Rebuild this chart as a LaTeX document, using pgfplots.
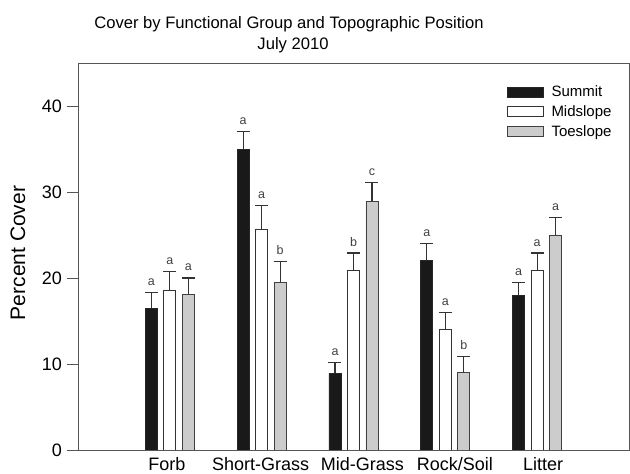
\documentclass[border=0pt]{standalone}
\usepackage{pgfplots}
\usepackage{pgfplotstable}
\pgfplotsset{compat=1.18}
\usepackage{fontspec}
\setmainfont{Liberation Sans}
\definecolor{axgray}{HTML}{555555}
\definecolor{toefill}{HTML}{CCCCCC}
\pgfplotstableread{
x y e
1 16.5 1.8
2 35.0 2.0
3 8.9 1.25
4 22.0 2.0
5 18.0 1.5
}\summit
\pgfplotstableread{
x y e
1 18.6 2.2
2 25.6 2.8
3 20.9 2.0
4 14.0 2.0
5 20.9 2.0
}\midslope
\pgfplotstableread{
x y e
1 18.1 1.9
2 19.5 2.4
3 28.9 2.2
4 9.0 1.9
5 25.0 2.0
}\toeslope
\begin{document}
\begin{tikzpicture}[x=1pt,y=1pt]
\useasboundingbox (0,0) rectangle (630,474);
\node[anchor=base, font=\fontsize{16.6}{19}\selectfont] at (289,445.5) {Cover by Functional Group and Topographic Position};
\node[anchor=base, font=\fontsize{16.6}{19}\selectfont] at (293,424.5) {July 2010};
\node[rotate=90, font=\fontsize{21}{24}\selectfont] at (18,221) {Percent Cover};
\begin{axis}[
 at={(78pt,24pt)}, anchor=south west,
 scale only axis, width=551pt, height=387pt,
 xmin=0, xmax=6, ymin=0, ymax=45,
 xtick={0.969,1.988,3.096,4.105,5.064},
 xticklabels={Forb,Short-Grass,Mid-Grass,Rock/Soil,Litter},
 ytick={0,10,20,30,40},
 tick align=outside,
 major tick length=11pt,
 xtick style={draw=none},
 ytick style={axgray, line width=0.9pt},
 axis line style={axgray, line width=0.9pt},
 /pgf/number format/assume math mode=true,
 ticklabel style={font=\fontsize{18}{20}\selectfont},
 yticklabel style={inner sep=0pt, xshift=-5pt},
 xticklabel style={inner sep=0pt, anchor=base, yshift=-10pt},
 ybar, bar width=12pt,
 legend style={draw=none, fill=none, at={(rel axis cs:0.7786,0.945)}, anchor=north west,
   font=\fontsize{15}{17}\selectfont, row sep=4.3pt, inner sep=0pt,
   nodes={inner sep=1.5pt}},
 legend cell align=left,
 legend image code/.code={\draw[#1, line width=0.8pt] (0pt,-5pt) rectangle (36pt,5pt); \path (42pt,0pt);},
 error bars/y dir=plus,
 error bars/y explicit,
 error bars/error bar style={line width=1.2pt, black!80},
 error bars/error mark options={rotate=90, mark size=6.5pt, line width=1.2pt, black!80},
]
\addplot[fill=black!90, draw=black!85, line width=0.8pt, bar shift=-18.5pt]
  table[x=x, y=y, y error=e]{\summit};
\addplot[fill=white, draw=black!80, line width=0.8pt, bar shift=0pt]
  table[x=x, y=y, y error=e]{\midslope};
\addplot[fill=toefill, draw=black!75, line width=0.8pt, bar shift=18.5pt]
  table[x=x, y=y, y error=e]{\toeslope};
\legend{Summit,Midslope,Toeslope}
\begin{scope}[every node/.style={anchor=base, font=\fontsize{12.5}{14}\selectfont, text=black!75, inner sep=0pt}]
\node[xshift=-18.5pt] at (axis cs:1,19.12) {a};
\node at (axis cs:1,21.62) {a};
\node[xshift=18.5pt] at (axis cs:1,20.82) {a};
\node[xshift=-18.5pt] at (axis cs:2,37.82) {a};
\node at (axis cs:2,29.22) {a};
\node[xshift=18.5pt] at (axis cs:2,22.72) {b};
\node[xshift=-18.5pt] at (axis cs:3,10.97) {a};
\node at (axis cs:3,23.72) {b};
\node[xshift=18.5pt] at (axis cs:3,31.92) {c};
\node[xshift=-18.5pt] at (axis cs:4,24.82) {a};
\node at (axis cs:4,16.82) {a};
\node[xshift=18.5pt] at (axis cs:4,11.72) {b};
\node[xshift=-18.5pt] at (axis cs:5,20.32) {a};
\node at (axis cs:5,23.72) {a};
\node[xshift=18.5pt] at (axis cs:5,27.82) {a};
\end{scope}
\end{axis}
\end{tikzpicture}
\end{document}
